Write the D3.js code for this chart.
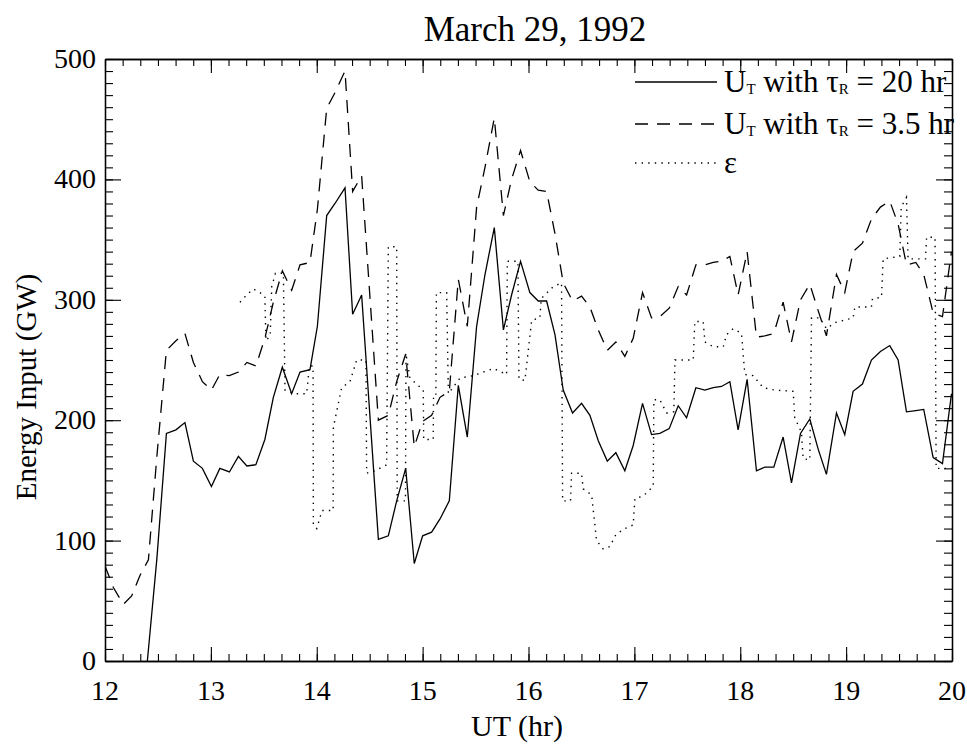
<!DOCTYPE html>
<html><head><meta charset="utf-8">
<script src="https://cdn.jsdelivr.net/npm/d3@7/dist/d3.min.js"></script>
<style>
html,body{margin:0;padding:0;background:#fff;}
svg text{font-family:"Liberation Serif","Times New Roman",serif;fill:#000;}
</style></head>
<body>
<svg id="chart" width="967" height="745"></svg>
<script>
// ---------------- data ----------------
const titleText = "March 29, 1992";
const xLabel = "UT (hr)";
const yLabel = "Energy Input (GW)";
const xTicks = [12,13,14,15,16,17,18,19,20];
const yTicks = [0,100,200,300,400,500];

// U_T with tau_R = 20 hr  [UT hr, GW]
const solidSeries = [
[12.40,0],[12.49,85],[12.58,189],[12.67,192],[12.755,198],[12.835,166],[12.92,160],[13.005,145],
[13.085,160],[13.175,157],[13.26,170],[13.34,162],[13.425,163],[13.51,184],[13.59,219],[13.675,244],
[13.763,222],[13.842,240],[13.936,242],[14.006,278],[14.094,370],[14.172,380],[14.267,393],[14.339,288],
[14.424,304],[14.582,101],[14.676,104],[14.755,133],[14.84,160],[14.921,81],[15.0,104],[15.085,107],
[15.164,118],[15.252,133],[15.337,229],[15.422,186],[15.51,278],[15.589,321],[15.677,360],[15.763,275],
[15.84,304],[15.925,332],[16.013,306],[16.092,299],[16.171,299],[16.25,271],[16.328,225],[16.416,206],
[16.501,214],[16.58,204],[16.659,183],[16.744,166],[16.825,173],[16.91,158],[16.989,179],[17.077,214],
[17.162,188],[17.241,189],[17.329,193],[17.414,212],[17.493,202],[17.581,227],[17.666,225],[17.745,227],
[17.823,228],[17.902,232],[17.98,192],[18.065,234],[18.153,158],[18.232,161],[18.317,161],[18.405,186],
[18.484,148],[18.569,189],[18.657,201],[18.736,176],[18.814,155],[18.909,206],[18.987,188],[19.066,224],
[19.154,230],[19.239,250],[19.324,257],[19.412,262],[19.491,250],[19.57,207],[19.658,208],[19.733,209],
[19.822,169],[19.91,164],[19.995,222]
];

// U_T with tau_R = 3.5 hr
const dashedSeries = [
[12.0,79],[12.079,61],[12.173,47],[12.252,54],[12.33,71],[12.41,84],[12.49,170],[12.58,258],
[12.67,266],[12.755,272],[12.835,248],[12.92,232],[13.005,225],[13.085,238],[13.175,237],[13.26,240],
[13.34,248],[13.425,245],[13.51,268],[13.59,298],[13.675,324],[13.763,308],[13.842,329],[13.936,331],
[14.006,375],[14.094,459],[14.172,472],[14.267,490],[14.339,390],[14.424,403],[14.582,200],[14.676,204],
[14.755,232],[14.84,255],[14.921,178],[15.0,199],[15.085,204],[15.164,219],[15.252,224],[15.337,317],
[15.422,278],[15.51,377],[15.589,410],[15.677,451],[15.763,370],[15.84,400],[15.925,424],[16.013,398],
[16.092,391],[16.171,390],[16.25,355],[16.328,314],[16.416,299],[16.501,303],[16.58,294],[16.659,275],
[16.744,258],[16.825,265],[16.91,253],[16.989,268],[17.077,306],[17.162,285],[17.241,286],[17.329,293],
[17.414,311],[17.493,304],[17.581,329],[17.666,329],[17.745,331],[17.823,332],[17.902,336],[17.98,304],
[18.065,340],[18.153,269],[18.232,270],[18.317,272],[18.405,298],[18.484,265],[18.569,300],[18.657,313],
[18.736,291],[18.814,270],[18.909,321],[18.987,306],[19.066,340],[19.154,347],[19.239,367],[19.324,377],
[19.412,382],[19.491,363],[19.57,329],[19.658,331],[19.733,321],[19.822,289],[19.91,286],[19.995,340]
];

// epsilon
const dottedSeries = [
[13.275,298],[13.338,304],[13.40,309],[13.464,306],[13.51,303],[13.52,266],[13.56,270],[13.575,311],
[13.61,322],[13.685,322],[13.70,225],[13.78,222],[13.905,222],[13.93,245],[13.965,245],[13.968,113],
[14.0,110],[14.05,125],[14.155,125],[14.157,194],[14.235,227],[14.314,232],[14.377,250],[14.465,250],
[14.471,156],[14.55,158],[14.66,163],[14.676,344],[14.755,344],[14.76,133],[14.838,133],[14.843,255],
[14.88,235],[15.006,225],[15.01,184],[15.1,184],[15.103,219],[15.125,219],[15.13,306],[15.227,306],
[15.243,222],[15.353,235],[15.479,237],[15.668,243],[15.793,238],[15.80,332],[15.90,332],[15.91,234],
[15.966,233],[16.03,283],[16.108,285],[16.12,301],[16.234,311],[16.312,314],[16.322,133],[16.397,133],
[16.407,156],[16.50,156],[16.517,143],[16.596,138],[16.643,100],[16.706,93],[16.769,95],[16.825,105],
[16.91,110],[16.989,113],[17.005,135],[17.083,137],[17.178,145],[17.184,217],[17.241,217],[17.304,206],
[17.373,207],[17.383,250],[17.556,250],[17.571,282],[17.65,282],[17.666,265],[17.745,261],[17.84,261],
[17.87,271],[17.933,276],[18.012,272],[18.043,238],[18.122,237],[18.216,227],[18.327,225],[18.5,224],
[18.515,202],[18.578,190],[18.594,168],[18.657,167],[18.673,285],[18.751,285],[18.814,276],[18.893,281],
[19.066,285],[19.082,294],[19.239,294],[19.249,301],[19.334,302],[19.35,334],[19.507,336],[19.52,377],
[19.57,385],[19.585,334],[19.75,334],[19.76,352],[19.84,352],[19.85,160],[20.0,160]
];

const legendItems = [
  {main:"U", sub:"T", rest:" with ", tau:"\u03C4", sub2:"R", tail:" = 20 hr", dash:null},
  {main:"U", sub:"T", rest:" with ", tau:"\u03C4", sub2:"R", tail:" = 3.5 hr", dash:"13,9"},
  {main:"\u03B5", dash:"1.4,5.2"}
];

// ---------------- layout ----------------
const svg = d3.select("#chart");
const L = 105, R = 952, T = 59, B = 661;
const x = d3.scaleLinear().domain([12,20]).range([L,R]);
const y = d3.scaleLinear().domain([0,500]).range([B,T]);

svg.append("defs").append("clipPath").attr("id","clip")
  .append("rect").attr("x",L).attr("y",T).attr("width",R-L).attr("height",B-T);

const line = d3.line().x(d=>x(d[0])).y(d=>y(d[1]));
const g = svg.append("g").attr("clip-path","url(#clip)");
g.append("path").datum(solidSeries).attr("d",line)
  .attr("fill","none").attr("stroke","#000").attr("stroke-width",1.3);
g.append("path").datum(dashedSeries).attr("d",line)
  .attr("fill","none").attr("stroke","#000").attr("stroke-width",1.3).attr("stroke-dasharray","13,9");
g.append("path").datum(dottedSeries).attr("d",line)
  .attr("fill","none").attr("stroke","#000").attr("stroke-width",1.4).attr("stroke-dasharray","1.4,5.2");

// axes (ticks inward on all four sides)
const xMinor = d3.range(12,20.0001,1/6);
const yMinor = d3.range(0,500.001,10);
function addAxis(axis, tx, ty){
  const a = svg.append("g").attr("transform",`translate(${tx},${ty})`).call(axis);
  a.selectAll("text").remove();
  a.select(".domain").attr("stroke","#000").attr("stroke-width",1.3);
  a.selectAll(".tick line").attr("stroke","#000").attr("stroke-width",1.1);
  return a;
}
addAxis(d3.axisBottom(x).tickValues(xMinor).tickSize(-7).tickSizeOuter(0), 0, B);
addAxis(d3.axisBottom(x).tickValues(xTicks).tickSize(-14).tickSizeOuter(0), 0, B);
addAxis(d3.axisTop(x).tickValues(xMinor).tickSize(-7).tickSizeOuter(0), 0, T);
addAxis(d3.axisTop(x).tickValues(xTicks).tickSize(-14).tickSizeOuter(0), 0, T);
addAxis(d3.axisLeft(y).tickValues(yMinor).tickSize(-8).tickSizeOuter(0), L, 0);
addAxis(d3.axisLeft(y).tickValues(yTicks).tickSize(-16).tickSizeOuter(0), L, 0);
addAxis(d3.axisRight(y).tickValues(yMinor).tickSize(-8).tickSizeOuter(0), R, 0);
addAxis(d3.axisRight(y).tickValues(yTicks).tickSize(-16).tickSizeOuter(0), R, 0);

// tick labels
svg.append("g").selectAll("text").data(xTicks).join("text")
  .attr("x",d=>x(d)).attr("y",B+39).attr("text-anchor","middle")
  .attr("font-size",28).text(d=>d);
svg.append("g").selectAll("text").data(yTicks).join("text")
  .attr("x",L-9).attr("y",d=>y(d)+9).attr("text-anchor","end")
  .attr("font-size",28).text(d=>d);

// titles
svg.append("text").attr("x",535).attr("y",41).attr("text-anchor","middle")
  .attr("font-size",35).text(titleText);
svg.append("text").attr("x",517).attr("y",736).attr("text-anchor","middle")
  .attr("font-size",30).text(xLabel);
svg.append("text").attr("transform",`translate(36,387) rotate(-90)`)
  .attr("text-anchor","middle").attr("font-size",29).text(yLabel);

// legend
const legY = [82,124,163];
legendItems.forEach((it,i)=>{
  const ly = legY[i];
  const ln = svg.append("line").attr("x1",635).attr("x2",717).attr("y1",ly).attr("y2",ly)
    .attr("stroke","#000").attr("stroke-width",1.3);
  if(it.dash) ln.attr("stroke-dasharray",it.dash);
  const t = svg.append("text").attr("x",724).attr("y",ly+10).attr("font-size",31);
  t.append("tspan").text(it.main);
  if(it.sub){
    t.append("tspan").attr("font-size",15).attr("dy",2).text(it.sub);
    t.append("tspan").attr("dy",-2).text(it.rest);
    t.append("tspan").text(it.tau);
    t.append("tspan").attr("font-size",15).attr("dy",2).text(it.sub2);
    t.append("tspan").attr("dy",-2).text(it.tail);
  }
});
</script>
</body></html>
